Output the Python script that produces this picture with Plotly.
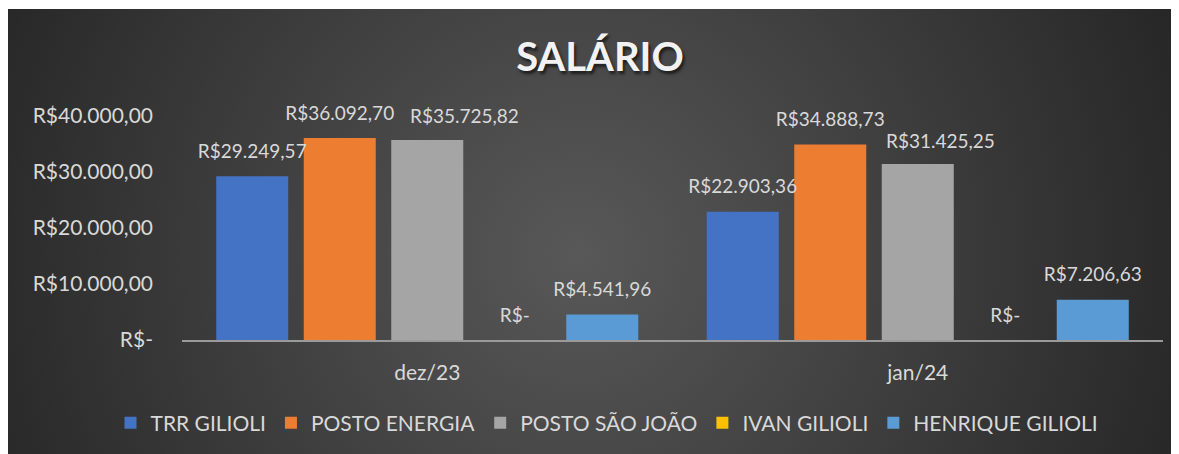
import base64
import plotly.graph_objects as go

# ---- data ----
categories = ["dez/23", "jan/24"]
series_names = ["TRR GILIOLI", "POSTO ENERGIA", "POSTO SÃO JOÃO", "IVAN GILIOLI", "HENRIQUE GILIOLI"]
trr_gilioli = [29249.57, 22903.36]
posto_energia = [36092.70, 34888.73]
posto_sao_joao = [35725.82, 31425.25]
ivan_gilioli = [0.0, 0.0]
henrique_gilioli = [4541.96, 7206.63]
tick_values = [0, 10000, 20000, 30000, 40000]

series_values = [trr_gilioli, posto_energia, posto_sao_joao, ivan_gilioli, henrique_gilioli]
colors = ["#4472C4", "#ED7D31", "#A5A5A5", "#FFC000", "#5B9BD5"]
# the POSTO SÃO JOÃO labels were nudged sideways in the original (pixels)
sao_joao_label_nudge = [37, 23]


def brl(v):
    if v == 0:
        return "R$-"
    s = f"{v:,.2f}"
    s = s.replace(",", "X").replace(".", ",").replace("X", ".")
    return "R$" + s


# page body has an 8px margin; reference coordinates are screen coordinates
OX, OY = 8, 8
W, H = 1171, 446
FONT = "Lato"
TXT = "#D9D9D9"
GAP = 0.108
LABEL_SIZE = 19


def px(x):
    return (x - OX) / W


def py(y):
    return 1 - (y - OY) / H


fig = go.Figure()
for name, vals, col in zip(series_names, series_values, colors):
    fig.add_trace(go.Bar(
        x=categories, y=vals, name=name,
        marker=dict(color=col, line=dict(width=0)),
        hoverinfo="skip",
    ))

# data labels (grouped scatter text, aligned with the grouped bars)
for name, vals in zip(series_names, series_values):
    nudged = name == "POSTO SÃO JOÃO"
    fig.add_trace(go.Scatter(
        x=categories, y=vals, mode="markers+text",
        text=["" if nudged else brl(v) for v in vals],
        textposition="top center",
        marker=dict(size=20, opacity=0),
        textfont=dict(family=FONT, size=LABEL_SIZE, color=TXT),
        cliponaxis=False, showlegend=False, hoverinfo="skip",
    ))

# nudged labels of the middle (POSTO SÃO JOÃO) bars
annotations = [
    dict(x=c, y=v, xref="x", yref="y", text=brl(v), showarrow=False,
         xanchor="center", yanchor="middle", xshift=n, yshift=24,
         font=dict(family=FONT, size=LABEL_SIZE, color=TXT))
    for c, v, n in zip(categories, posto_sao_joao, sao_joao_label_nudge)
]

# radial gradient background (as an SVG image)
bw, bh = W, H - 1
svg = (
    f'<svg xmlns="http://www.w3.org/2000/svg" width="{bw}" height="{bh}" viewBox="0 0 {bw} {bh}" '
    f'preserveAspectRatio="none"><defs><radialGradient id="g" gradientUnits="userSpaceOnUse" '
    f'cx="570" cy="245" r="700"><stop offset="0" stop-color="#585858"/>'
    f'<stop offset="1" stop-color="#222222"/></radialGradient></defs>'
    f'<rect width="{bw}" height="{bh}" fill="url(#g)"/></svg>'
)
src = "data:image/svg+xml;base64," + base64.b64encode(svg.encode()).decode()

fig.update_layout(
    width=W, height=H,
    margin=dict(l=0, r=0, t=0, b=0),
    paper_bgcolor="white",
    plot_bgcolor="rgba(0,0,0,0)",
    images=[dict(source=src, xref="paper", yref="paper", x=0, y=1 - 1 / H,
                 sizex=1, sizey=bh / H, xanchor="left", yanchor="top",
                 sizing="stretch", layer="below")],
    annotations=annotations,
    barmode="group",
    bargap=GAP,
    bargroupgap=0.177,
    scattermode="group",
    scattergap=GAP,
    title=dict(text="<b>SALÁRIO</b>", x=px(600), xanchor="center", y=py(57), yanchor="middle",
               font=dict(family=FONT, size=40, color="#F2F2F2",
                         shadow="2px 3px 3px rgba(0,0,0,0.6)")),
    xaxis=dict(domain=[px(182), px(1163)], showline=True, linecolor="#9a9a9a", linewidth=2,
               showgrid=False, ticks="", automargin=False, ticklabelstandoff=13,
               tickfont=dict(family=FONT, size=21, color=TXT)),
    yaxis=dict(domain=[py(340), py(116)], range=[0, 40000],
               tickvals=tick_values, ticktext=[brl(v) for v in tick_values],
               showgrid=False, zeroline=False, showline=False, ticks="", automargin=False,
               ticklabelstandoff=28, tickfont=dict(family=FONT, size=21, color=TXT)),
    showlegend=True,
    legend=dict(orientation="h", x=px(607), xanchor="center", y=py(423), yanchor="middle",
                font=dict(family=FONT, size=21, color=TXT), bgcolor="rgba(0,0,0,0)",
                traceorder="normal"),
)

fig.write_html("out.html")
